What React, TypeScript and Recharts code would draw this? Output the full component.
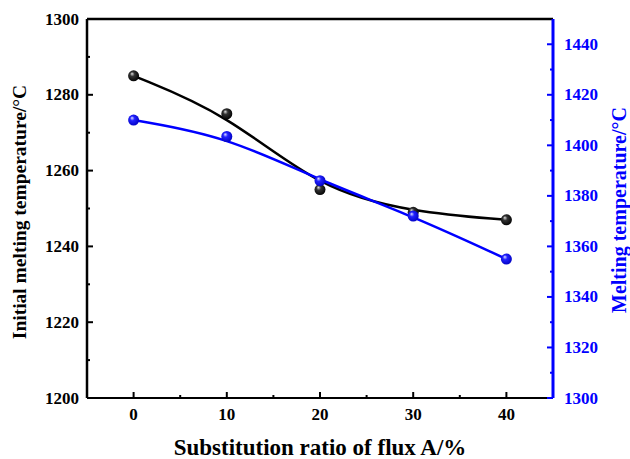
import { ComposedChart, Line, XAxis, YAxis, ReferenceLine, Label } from "recharts";

const ratios = [0, 10, 20, 30, 40];
const initialMelting = [1285, 1275, 1255, 1249, 1247];
const melting = [1410, 1403.5, 1386, 1372, 1355];

const xTicks = [0, 5, 10, 15, 20, 25, 30, 35, 40];
const leftTicks = [1200, 1210, 1220, 1230, 1240, 1250, 1260, 1270, 1280, 1290, 1300];
const rightTicks = [1300, 1310, 1320, 1330, 1340, 1350, 1360, 1370, 1380, 1390, 1400, 1410, 1420, 1430, 1440];

const BLUE = "#0000ff";
const FONT = "'Liberation Serif', 'Times New Roman', serif";

const data = ratios.map((r, i) => ({ ratio: r, initial: initialMelting[i], melting: melting[i] }));

function makeTick(side: "left" | "right" | "bottom", color: string, major: number) {
  return (props: any) => {
    const { x, y, payload } = props;
    const v = payload.value;
    const isMajor = v % major === 0;
    const len = isMajor ? 6 : 3;
    const txt = { fill: color, fontSize: 17, fontWeight: "bold", fontFamily: FONT };
    if (side === "left") {
      return (
        <g>
          <line x1={x} y1={y} x2={x + len} y2={y} stroke={color} strokeWidth={2} />
          {isMajor && (
            <text x={x - 8} y={y} textAnchor="end" dominantBaseline="central" {...txt}>
              {v}
            </text>
          )}
        </g>
      );
    }
    if (side === "right") {
      return (
        <g>
          <line x1={x} y1={y} x2={x - len} y2={y} stroke={color} strokeWidth={2} />
          {isMajor && (
            <text x={x + 11} y={y} textAnchor="start" dominantBaseline="central" {...txt}>
              {v}
            </text>
          )}
        </g>
      );
    }
    return (
      <g>
        <line x1={x} y1={y} x2={x} y2={y - len} stroke={color} strokeWidth={2} />
        {isMajor && (
          <text x={x} y={y + 16} textAnchor="middle" dominantBaseline="central" {...txt}>
            {v}
          </text>
        )}
      </g>
    );
  };
}

function makeDot(id: string, light: string, mid: string, dark: string) {
  return (props: any) => {
    const { cx, cy, index } = props;
    return (
      <g key={`${id}-${index}`}>
        <defs>
          <radialGradient id={id} cx="0.45" cy="0.45" r="0.6" fx="0.35" fy="0.3">
            <stop offset="0%" stopColor={light} />
            <stop offset="35%" stopColor={mid} />
            <stop offset="100%" stopColor={dark} />
          </radialGradient>
        </defs>
        <circle cx={cx} cy={cy} r={5.5} fill={`url(#${id})`} />
      </g>
    );
  };
}

export default function App() {
  return (
    <div style={{ position: "absolute", left: 0, top: 0 }}>
      <ComposedChart width={630} height={459} data={data} margin={{ top: 19, right: 0, bottom: 0, left: 0 }}>
        <XAxis
          dataKey="ratio"
          type="number"
          domain={[-5, 45]}
          ticks={xTicks}
          interval={0}
          height={61}
          tickSize={0}
          tickMargin={0}
          tickLine={false}
          axisLine={{ stroke: "#000", strokeWidth: 2 }}
          tick={makeTick("bottom", "#000", 10)}
        >
          <Label
            content={() => (
              <text x={320} y={447} textAnchor="middle" dominantBaseline="central" fontSize={23} fontWeight="bold" fontFamily={FONT} fill="#000">
                Substitution ratio of flux A/%
              </text>
            )}
          />
        </XAxis>
        <YAxis
          yAxisId="left"
          domain={[1200, 1300]}
          ticks={leftTicks}
          interval={0}
          width={87}
          tickSize={0}
          tickMargin={0}
          tickLine={false}
          axisLine={{ stroke: "#000", strokeWidth: 2.5 }}
          tick={makeTick("left", "#000", 20)}
        >
          <Label
            content={() => (
              <text x={19} y={212} transform="rotate(-90 19 212)" textAnchor="middle" dominantBaseline="central" fontSize={19.5} fontWeight="bold" fontFamily={FONT} fill="#000">
                Initial melting temperature/°C
              </text>
            )}
          />
        </YAxis>
        <YAxis
          yAxisId="right"
          orientation="right"
          domain={[1300, 1450]}
          ticks={rightTicks}
          interval={0}
          width={77}
          tickSize={0}
          tickMargin={0}
          tickLine={false}
          axisLine={{ stroke: BLUE, strokeWidth: 3 }}
          tick={makeTick("right", BLUE, 20)}
        >
          <Label
            content={() => (
              <text x={619} y={210} transform="rotate(-90 619 210)" textAnchor="middle" dominantBaseline="central" fontSize={20} fontWeight="bold" fontFamily={FONT} fill={BLUE}>
                Melting temperature/°C
              </text>
            )}
          />
        </YAxis>
        <ReferenceLine yAxisId="left" y={1300} stroke="#000" strokeWidth={2.5} />
        <Line
          yAxisId="left"
          dataKey="initial"
          type="basis"
          stroke="#000"
          strokeWidth={2.5}
          dot={makeDot("gBlack", "#e0e0e0", "#333", "#000")}
          activeDot={false}
          isAnimationActive={false}
        />
        <Line
          yAxisId="right"
          dataKey="melting"
          type="basis"
          stroke={BLUE}
          strokeWidth={2.5}
          dot={makeDot("gBlue", "#e0e0ff", "#2222ff", "#0000c0")}
          activeDot={false}
          isAnimationActive={false}
        />
      </ComposedChart>
    </div>
  );
}
